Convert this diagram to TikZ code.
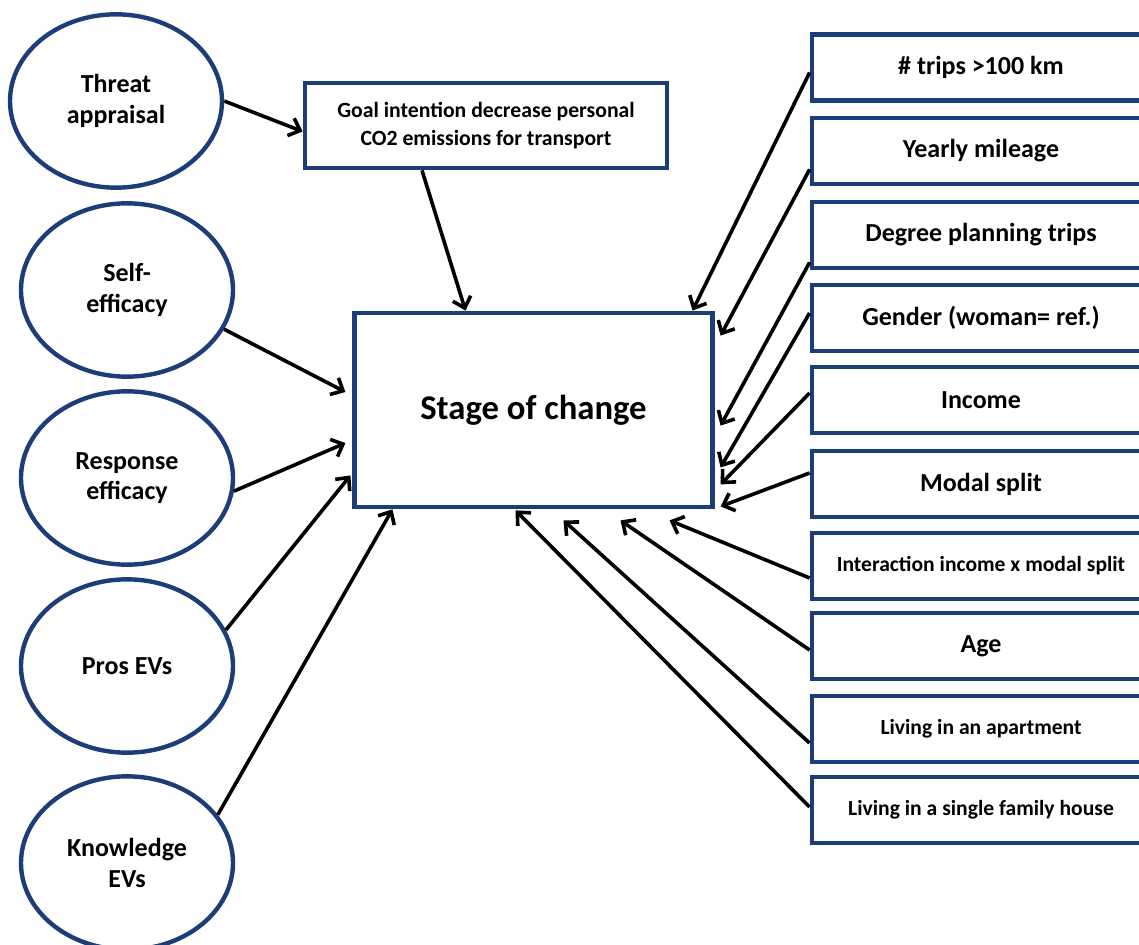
\documentclass[tikz,border=0pt]{standalone}
\usepackage{fontspec}
\setmainfont{Carlito}
\usetikzlibrary{arrows.meta,calc,shapes.geometric}
\definecolor{boxblue}{RGB}{28,62,120}

\begin{document}
\begin{tikzpicture}[x=0.75pt, y=-0.75pt,
  construct/.style={ellipse, draw=boxblue, line width=3.3pt, minimum width=159pt, minimum height=130pt, inner sep=0pt, align=center, font=\bfseries\fontsize{19.5}{23}\selectfont},
  factorbox/.style={rectangle, draw=boxblue, line width=3.6pt, minimum width=253.5pt, minimum height=49.5pt, inner sep=0pt, font=\bfseries\fontsize{19.5}{23}\selectfont},
  smallfactor/.style={factorbox, font=\bfseries\fontsize{16.2}{19}\selectfont},
  effect/.style={black, line width=2.7pt, -{Straight Barb[length=7.5pt,width=14pt]}}]
  \path[use as bounding box, clip] (0,0) rectangle (1139,945);

  % latent constructs
  \node[construct] (threat) at (116,101) {Threat\\appraisal};
  \node[construct] (self) at (127,290) {Self-\\efficacy};
  \node[construct] (response) at (127,478) {Response\\efficacy};
  \node[construct] (pros) at (127,666) {Pros EVs};
  \node[construct] (knowledge) at (127,863) {Knowledge\\EVs};

  \node[rectangle, draw=boxblue, line width=3.6pt, minimum width=271.5pt, minimum height=63.75pt, align=center, font=\bfseries\fontsize{16.3}{21}\selectfont] (goal) at (486,125.5) {Goal intention decrease personal\\CO2 emissions for transport};
  \node[rectangle, draw=boxblue, line width=3.6pt, minimum width=268pt, minimum height=145.5pt, font=\bfseries\fontsize{26}{30}\selectfont] (stage) at (533.5,410) {Stage of change};

  % background variables
  \node[factorbox] (trips) at (981,67.5) {\# trips >100 km};
  \node[factorbox] (yearly) at (981,151) {Yearly mileage};
  \node[factorbox] (degree) at (981,235) {Degree planning trips};
  \node[factorbox] (gender) at (981,318) {Gender (woman= ref.)};
  \node[factorbox] (income) at (981,400) {Income};
  \node[factorbox] (modal) at (981,484) {Modal split};
  \node[smallfactor] (interaction) at (981,566) {Interaction income x modal split};
  \node[factorbox] (age) at (981,646) {Age};
  \node[smallfactor] (apartment) at (981,729) {Living in an apartment};
  \node[smallfactor] (house) at (981,810) {Living in a single family house};

  % paths
  \draw[effect] (threat.east) -- ($(goal.west)+(0,6)$);
  \draw[effect] ($(goal.south)+(-64,0)$) -- ($(stage.north)+(-68,0)$);
  \draw[effect] (self.-22) -- ($(stage.west)+(-7,-18)$);
  \draw[effect] (response.-7) -- ($(stage.west)+(-7,33)$);
  \draw[effect] (pros.20) -- ($(stage.south west)+(-2,-34)$);
  \draw[effect] (knowledge.28) -- ($(stage.south west)+(40,0)$);

  \draw[effect] ($(trips.west)+(0,5)$) -- ($(stage.north east)+(-22,0)$);
  \draw[effect] ($(yearly.south west)+(0,-17)$) -- ($(stage.north east)+(6,25)$);
  \draw[effect] ($(degree.south west)+(0,-8)$) -- ($(stage.north east)+(6,115)$);
  \draw[effect] ($(gender.west)+(0,-5)$) -- ($(stage.south east)+(6,-42)$);
  \draw[effect] ($(income.west)+(0,-7)$) -- ($(stage.south east)+(6,-25)$);
  \draw[effect] ($(modal.west)+(0,-11)$) -- ($(stage.south east)+(6,-3)$);
  \draw[effect] ($(interaction.west)+(0,12)$) -- ($(stage.south east)+(-45,11)$);
  \draw[effect] ($(age.west)+(0,4)$) -- ($(stage.south)+(87,11)$);
  \draw[effect] ($(apartment.west)+(0,14)$) -- ($(stage.south)+(30,11)$);
  \draw[effect] ($(house.west)+(0,-3)$) -- ($(stage.south)+(-18,1)$);
\end{tikzpicture}
\end{document}
